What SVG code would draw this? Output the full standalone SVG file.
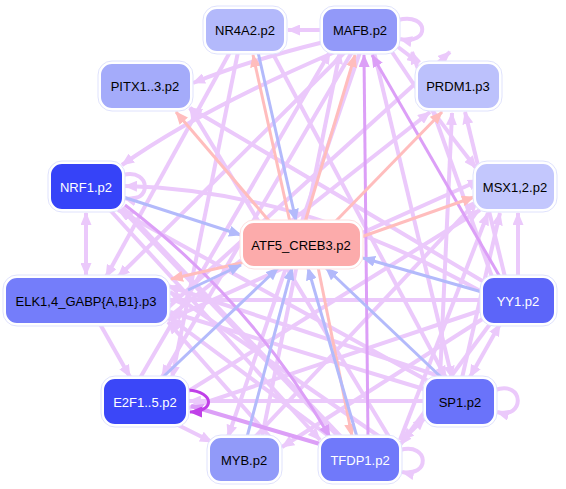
<svg xmlns="http://www.w3.org/2000/svg" width="566" height="489" viewBox="0 0 566 489">
<defs>
<style>
.e{fill:none;stroke-width:4;stroke-linecap:butt}
.lp{stroke:#ebc9fb;marker-end:url(#mlp)}
.mp{stroke:#dc9ff7;stroke-width:3;marker-end:url(#mmp)}
.dp{stroke:#c040e8;stroke-width:3;marker-end:url(#mdp)}
.pk{stroke:#ffbdbd;stroke-width:3;marker-end:url(#mpk)}
.bl{stroke:#b3bafb;stroke-width:3;marker-end:url(#mbl)}
.ring{fill:#fff;stroke:#dfe2fd;stroke-width:1}
.box{stroke:#fff;stroke-width:2}
text{font-family:"Liberation Sans",Arial,sans-serif;font-size:13px;text-anchor:middle;dominant-baseline:central}
.w{fill:#fff}.k{fill:#000}
</style>
<marker id="mlp" markerUnits="userSpaceOnUse" markerWidth="13" markerHeight="11" refX="12" refY="5.5" orient="auto"><path d="M0,0 L13,5.5 L0,11 z" fill="#ebc9fb"/></marker>
<marker id="mmp" markerUnits="userSpaceOnUse" markerWidth="13" markerHeight="11" refX="12" refY="5.5" orient="auto"><path d="M0,0 L13,5.5 L0,11 z" fill="#dc9ff7"/></marker>
<marker id="mdp" markerUnits="userSpaceOnUse" markerWidth="13" markerHeight="11" refX="12" refY="5.5" orient="auto"><path d="M0,0 L13,5.5 L0,11 z" fill="#c040e8"/></marker>
<marker id="mpk" markerUnits="userSpaceOnUse" markerWidth="13" markerHeight="11" refX="12" refY="5.5" orient="auto"><path d="M0,0 L13,5.5 L0,11 z" fill="#ffbdbd"/></marker>
<marker id="mbl" markerUnits="userSpaceOnUse" markerWidth="13" markerHeight="11" refX="12" refY="5.5" orient="auto"><path d="M0,0 L13,5.5 L0,11 z" fill="#b3bafb"/></marker>
<marker id="slp" markerUnits="userSpaceOnUse" markerWidth="13" markerHeight="11" refX="12" refY="5.5" orient="auto-start-reverse"><path d="M0,0 L13,5.5 L0,11 z" fill="#ebc9fb"/></marker>
</defs>
<g id="connectors">
<path class="e lp" d="M322,30 L288,30"/>
<path class="e lp" d="M398,20 C430,12 430,46 400,39"/>
<path class="e lp" d="M398,47 L419,63"/>
<path class="e lp" d="M324,42 Q250,60 193,83"/>
<path class="e lp" d="M392,52 Q430,110 476,168"/>
<path class="e lp" d="M335,52 Q200,110 122,165"/>
<path class="e lp" d="M345,52 L118,277"/>
<path class="e lp" d="M352,52 L162,377"/>
<path class="e lp" d="M360,52 L228,437"/>
<path class="e lp" d="M374,52 L452,378"/>
<path class="e lp" d="M230,52 L106,277"/>
<path class="e lp" d="M238,52 L172,378"/>
<path class="e lp" d="M272,52 L446,378"/>
<path class="e lp" d="M484,282 Q330,190 190,108"/>
<path class="e lp" d="M482,292 Q300,190 125,186"/>
<path class="e lp" d="M518,277 L518,213"/>
<path class="e lp" d="M505,277 L465,112"/>
<path class="e lp" d="M482,300 L170,300"/>
<path class="e lp" d="M482,310 L189,408"/>
<path class="e lp" d="M484,318 L282,447"/>
<path class="e lp" d="M490,324 L400,445"/>
<path class="e lp" d="M492,277 L412,52"/>
<path class="e" d="M500,324 L470,377" marker-start="url(#slp)" marker-end="url(#slp)" style="stroke:#ebc9fb"/>
<path class="e lp" d="M495,390 C525,380 525,420 497,412"/>
<path class="e lp" d="M400,450 C430,442 430,478 402,472"/>
<path class="e" d="M425,418 L402,440" marker-start="url(#slp)" marker-end="url(#slp)" style="stroke:#ebc9fb"/>
<path class="e lp" d="M425,401 L189,401"/>
<path class="e lp" d="M427,390 L170,312"/>
<path class="e lp" d="M440,378 L452,113"/>
<path class="e lp" d="M462,378 L500,213"/>
<path class="e lp" d="M400,440 L488,213"/>
<path class="e lp" d="M330,437 L170,318"/>
<path class="e lp" d="M400,455 L190,108"/>
<path class="e lp" d="M380,437 L170,292"/>
<path class="e lp" style="stroke-width:6" d="M340,437 L122,208"/>
<path class="e lp" d="M430,382 L118,210"/>
<path class="e lp" d="M445,378 L168,286"/>
<path class="e lp" d="M262,437 L340,52"/>
<path class="e lp" d="M255,437 L478,200"/>
<path class="e" d="M86,213 L86,275" marker-start="url(#slp)" marker-end="url(#slp)" style="stroke:#ebc9fb"/>
<path class="e lp" d="M123,175 C152,168 152,205 124,198"/>
<path class="e lp" d="M100,324 L130,377"/>
<path class="e lp" d="M178,425 L212,442"/>
<path class="e lp" d="M150,324 L450,52"/>
<path class="e lp" d="M160,324 L430,112"/>
<path class="e lp" d="M168,320 L480,180"/>
<path class="e lp" d="M110,210 L320,440"/>
<path class="e lp" d="M140,378 L330,52"/>
<path class="e lp" d="M187,392 L480,210"/>
<path class="e lp" d="M270,437 L168,322"/>
<path class="e mp" d="M500,277 L372,55"/>
<path class="e mp" d="M368,437 L364,55"/>
<path class="e mp" style="stroke-width:4" d="M320,444 L191,406"/>
<path class="e mp" d="M125,205 Q250,300 330,437"/>
<path class="e dp" d="M188,390 C215,392 215,412 190,412"/>
<path class="e pk" d="M290,222 L253,55"/>
<path class="e pk" d="M305,222 L355,55"/>
<path class="e pk" d="M270,222 L176,112"/>
<path class="e pk" d="M335,222 L442,112"/>
<path class="e pk" d="M361,237 L474,197"/>
<path class="e pk" d="M245,262 L171,279"/>
<path class="e pk" d="M318,267 L352,436"/>
<path class="e bl" d="M123,197 L241,235"/>
<path class="e bl" d="M188,290 L241,265"/>
<path class="e bl" d="M162,378 L278,268"/>
<path class="e bl" d="M247,437 L292,268"/>
<path class="e bl" d="M357,437 L308,268"/>
<path class="e bl" d="M442,378 L326,268"/>
<path class="e bl" d="M482,292 L363,258"/>
<path class="e bl" d="M258,52 L296,221"/>
</g>
<g id="NR4A2"><rect class="ring" x="203" y="6" width="84" height="48" rx="14"/><rect class="box" x="205" y="8" width="80" height="44" rx="12" fill="#b3b9fb"/><text class="k" x="245" y="30">NR4A2.p2</text></g>
<g id="MAFB"><rect class="ring" x="320" y="6" width="80" height="48" rx="14"/><rect class="box" x="322" y="8" width="76" height="44" rx="12" fill="#9299f9"/><text class="k" x="360" y="30">MAFB.p2</text></g>
<g id="PITX1"><rect class="ring" x="98" y="61" width="95" height="50" rx="14"/><rect class="box" x="100" y="63" width="91" height="46" rx="12" fill="#a4abfa"/><text class="k" x="145" y="86">PITX1..3.p2</text></g>
<g id="PRDM1"><rect class="ring" x="415" y="61" width="87" height="50" rx="14"/><rect class="box" x="417" y="63" width="83" height="46" rx="12" fill="#bcc1fc"/><text class="k" x="458" y="86">PRDM1.p3</text></g>
<g id="NRF1"><rect class="ring" x="48" y="161" width="77" height="51" rx="14"/><rect class="box" x="50" y="163" width="73" height="47" rx="12" fill="#3643f8"/><text class="w" x="86" y="187">NRF1.p2</text></g>
<g id="MSX1"><rect class="ring" x="473" y="161" width="84" height="51" rx="14"/><rect class="box" x="475" y="163" width="80" height="47" rx="12" fill="#c3c7fd"/><text class="k" x="515" y="187">MSX1,2.p2</text></g>
<g id="ATF5"><rect class="ring" x="240" y="220" width="123" height="49" rx="14" style="stroke:#fde0e0"/><rect class="box" x="242" y="222" width="119" height="45" rx="12" fill="#fcabab"/><text class="k" x="301" y="245">ATF5_CREB3.p2</text></g>
<g id="ELK1"><rect class="ring" x="3" y="275" width="167" height="51" rx="14"/><rect class="box" x="5" y="277" width="163" height="47" rx="12" fill="#747dfa"/><text class="k" x="86" y="301">ELK1,4_GABP{A,B1}.p3</text></g>
<g id="YY1"><rect class="ring" x="480" y="275" width="77" height="51" rx="14"/><rect class="box" x="482" y="277" width="73" height="47" rx="12" fill="#5c65f9"/><text class="w" x="518" y="301">YY1.p2</text></g>
<g id="E2F1"><rect class="ring" x="101" y="376" width="88" height="51" rx="14"/><rect class="box" x="103" y="378" width="84" height="47" rx="12" fill="#3b47f8"/><text class="w" x="145" y="402">E2F1..5.p2</text></g>
<g id="SP1"><rect class="ring" x="423" y="376" width="74" height="51" rx="14"/><rect class="box" x="425" y="378" width="70" height="47" rx="12" fill="#6a73fa"/><text class="k" x="460" y="402">SP1.p2</text></g>
<g id="MYB"><rect class="ring" x="207" y="435" width="75" height="49" rx="14"/><rect class="box" x="209" y="437" width="71" height="45" rx="12" fill="#919af9"/><text class="k" x="244" y="460">MYB.p2</text></g>
<g id="TFDP1"><rect class="ring" x="318" y="435" width="84" height="49" rx="14"/><rect class="box" x="320" y="437" width="80" height="45" rx="12" fill="#7079fa"/><text class="w" x="360" y="460">TFDP1.p2</text></g>
</svg>
